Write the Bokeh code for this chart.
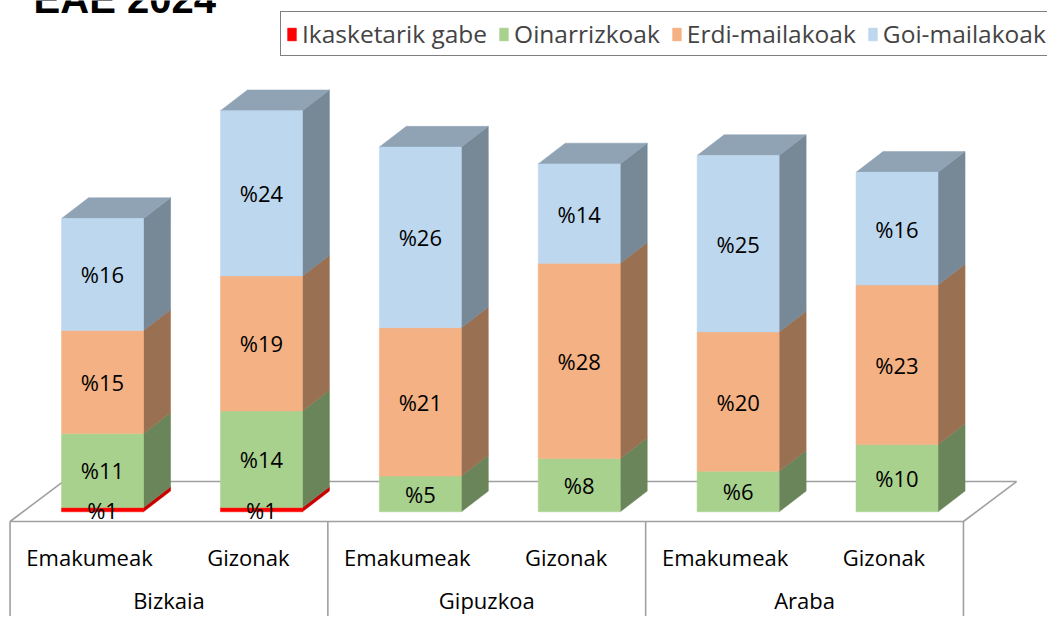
from bokeh.plotting import figure
from bokeh.models import Range1d, ColumnDataSource, Legend, LegendItem
from bokeh.embed import file_html
from bokeh.resources import INLINE
from bokeh.core.properties import value

# ---------------- data ----------------
provinces = ["Bizkaia", "Gipuzkoa", "Araba"]
sexes = ["Emakumeak", "Gizonak"]
series_names = ["Ikasketarik gabe", "Oinarrizkoak", "Erdi-mailakoak", "Goi-mailakoak"]
ikasketarik_gabe = [0.6, 0.6, 0.0, 0.0, 0.0, 0.0]
oinarrizkoak = [10.6, 13.8, 5.1, 7.6, 5.8, 9.6]
erdi_mailakoak = [14.7, 19.3, 21.2, 27.9, 19.9, 22.8]
goi_mailakoak = [16.0, 23.6, 25.8, 14.2, 25.2, 16.1]
title_text = "EAE 2024"

# ---------------- style ----------------
front_colors = ["#FF0000", "#A9D18E", "#F4B183", "#BDD7EE"]
side_colors = ["#C80000", "#6A8559", "#9A7053", "#778896"]
top_colors = ["#D00000", "#86A66F", "#C08D68", "#8FA3B5"]
FONT = "Open Sans"
GRID = "#A0A0A0"

W, H = 1047, 616
BAR_SHIFT = 0.082   # front face shift to the right of the slot centre
BAR_HALF = 0.258    # half width of the front face
DX, DY = 0.170, 2.96          # 3-D depth offset of bars
FLOOR_Y = -1.39               # front edge of the floor
FDX, FDY = 0.334, 5.71        # 3-D depth of the floor
AXIS_BOTTOM = -16.5
SEX_Y, PROV_Y = -6.39, -12.6
TITLE_X, TITLE_Y = -0.352, 73.3

p = figure(width=W, height=H, output_backend="svg", toolbar_location=None,
           x_range=Range1d(-0.5601, 6.029), y_range=Range1d(-14.96, 73.04),
           min_border=0, outline_line_color=None)
p.axis.visible = False
p.grid.visible = False
p.background_fill_color = "white"
p.border_fill_color = "white"

n = len(provinces) * len(sexes)
slots = list(range(n))

# floor
p.patch([-0.5, n - 0.5, n - 0.5 + FDX, -0.5 + FDX],
        [FLOOR_Y, FLOOR_Y, FLOOR_Y + FDY, FLOOR_Y + FDY],
        fill_color="white", line_color=GRID, line_width=1.6)

# category table dividers
div_x = [2 * k - 0.5 for k in range(len(provinces) + 1)]
p.segment(x0=div_x, y0=[FLOOR_Y] * len(div_x), x1=div_x, y1=[AXIS_BOTTOM] * len(div_x),
          line_color=GRID, line_width=1.6)

# category labels
p.text(x=slots, y=[SEX_Y] * n, text=[sexes[i % 2] for i in slots],
       text_align="center", text_baseline="middle", text_font=value(FONT),
       text_font_size="22px", text_color="black")
p.text(x=[2 * k + 0.5 for k in range(len(provinces))], y=[PROV_Y] * len(provinces),
       text=provinces, text_align="center", text_baseline="middle",
       text_font=value(FONT), text_font_size="22px", text_color="black")

series = [ikasketarik_gabe, oinarrizkoak, erdi_mailakoak, goi_mailakoak]
totals = [sum(s[i] for s in series) for i in slots]
bottoms = [0.0] * n
front_renderers = []
lab_x, lab_y, lab_t = [], [], []
for k, vals in enumerate(series):
    left = [i + BAR_SHIFT - BAR_HALF for i in slots]
    right = [i + BAR_SHIFT + BAR_HALF for i in slots]
    bot = bottoms[:]
    top = [bot[i] + vals[i] for i in slots]
    keep = [i for i in slots if vals[i] > 0]
    src = ColumnDataSource(dict(left=[left[i] for i in keep], right=[right[i] for i in keep],
                                bottom=[bot[i] for i in keep], top=[top[i] for i in keep]))
    # side faces
    xs = [[right[i], right[i] + DX, right[i] + DX, right[i]] for i in keep]
    ys = [[bot[i], bot[i] + DY, top[i] + DY, top[i]] for i in keep]
    p.patches(xs, ys, fill_color=side_colors[k], line_color=side_colors[k], line_width=0.5)
    # top faces (only where this segment is the top of the stack)
    tkeep = [i for i in keep if abs(top[i] - totals[i]) < 1e-9]
    if tkeep:
        txs = [[left[i], right[i], right[i] + DX, left[i] + DX] for i in tkeep]
        tys = [[top[i], top[i], top[i] + DY, top[i] + DY] for i in tkeep]
        p.patches(txs, tys, fill_color=top_colors[k], line_color=top_colors[k], line_width=0.5)
    r = p.quad(left="left", right="right", bottom="bottom", top="top", source=src,
               fill_color=front_colors[k], line_color=front_colors[k], line_width=0.5)
    front_renderers.append(r)
    for i in keep:
        lab_x.append(i + BAR_SHIFT)
        lab_y.append((bot[i] + top[i]) / 2)
        lab_t.append("%" + str(int(round(vals[i]))))
    bottoms = top

p.text(x=lab_x, y=lab_y, text=lab_t, text_align="center", text_baseline="middle",
       text_font=value(FONT), text_font_size="22px", text_color="black")

# title (partly outside the top edge, as in the reference)
p.text(x=[TITLE_X], y=[TITLE_Y], text=[title_text], text_align="left",
       text_baseline="middle", text_font=value("Liberation Sans"),
       text_font_style="bold", text_font_size="40px", text_color="black")

legend = Legend(items=[LegendItem(label=series_names[k], renderers=[front_renderers[k]])
                       for k in range(len(series))],
                orientation="horizontal", location=(280, 560), margin=0,
                padding=5, spacing=11, label_standoff=5, glyph_width=11, glyph_height=16,
                label_text_font=FONT, label_text_font_size="24.5px",
                border_line_color="black", border_line_width=1.5,
                background_fill_color="white", background_fill_alpha=1.0)
p.add_layout(legend, "center")

open("out.html", "w").write(file_html(p, INLINE))
